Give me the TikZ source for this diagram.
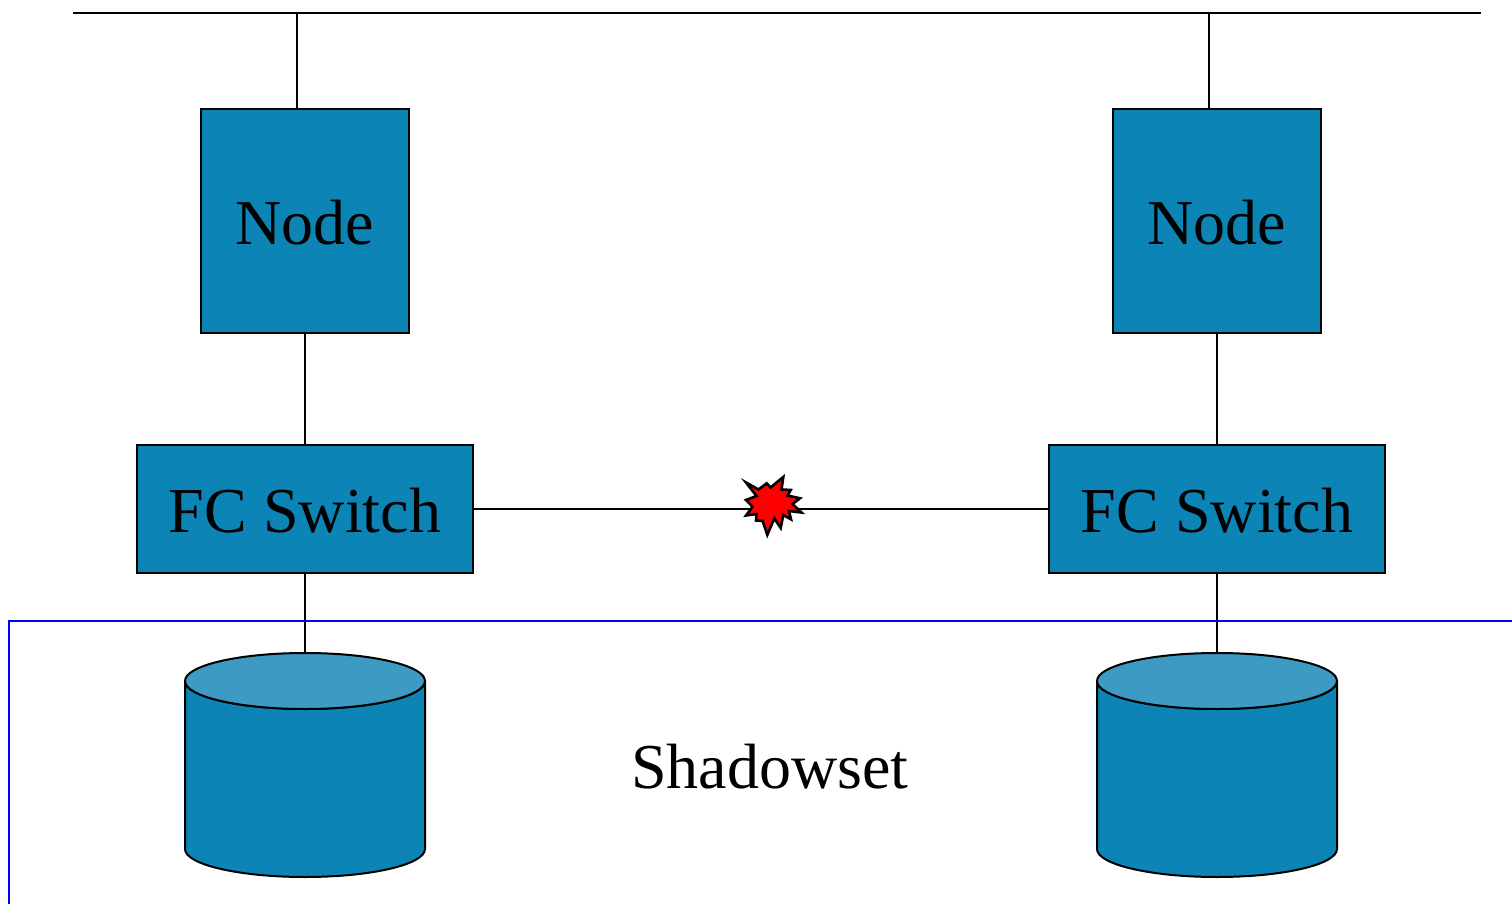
\documentclass[tikz,border=0pt]{standalone}
\usepackage{fontspec}
\setmainfont{Liberation Serif}
\definecolor{boxblue}{HTML}{0C84B5}
\definecolor{capblue}{HTML}{3C9AC3}
\tikzset{
  unit box/.style={draw=black,fill=boxblue,line width=1pt,outer sep=0pt,inner sep=0pt,
    font=\fontsize{32}{36}\selectfont,text depth=0pt,align=center},
  node box/.style={unit box,text height=24pt,minimum width=104pt,minimum height=112pt},
  switch box/.style={unit box,text height=23pt,minimum width=168pt,minimum height=64pt},
  disk anchor/.style={inner sep=0pt,outer sep=0pt,minimum width=120pt,minimum height=112pt},
  link/.style={draw=black,line width=1pt},
  disk body/.style={draw=black,fill=boxblue,line width=1pt,line join=round},
  disk cap/.style={draw=black,fill=capblue,line width=1pt},
  frame line/.style={draw={rgb,255:red,0;green,0;blue,255},line width=1pt},
  label text/.style={font=\fontsize{32}{36}\selectfont,inner sep=0pt,anchor=base},
  burst/.style={draw=black,fill=red,line width=1.3pt,miter limit=10}
}
\begin{document}
\begin{tikzpicture}[x=0.5pt,y=-0.5pt]
\useasboundingbox (0,0) rectangle (1512,904);
% bus
\coordinate (busL) at (73,13);
\coordinate (busR) at (1481,13);
\coordinate (tapL) at (297,13);
\coordinate (tapR) at (1209,13);
\draw[link] (busL) -- (busR);
% nodes and switches
\node[node box] (nodeL) at (305,221) {Node};
\node[node box] (nodeR) at (1217,221) {Node};
\node[switch box] (swL) at (305,509) {FC Switch};
\node[switch box] (swR) at (1217,509) {FC Switch};
% disk extents
\node[disk anchor] (diskL) at (305,765) {};
\node[disk anchor] (diskR) at (1217,765) {};
% connectors
\draw[link] (tapL) -- (tapL |- nodeL.north);
\draw[link] (tapR) -- (tapR |- nodeR.north);
\draw[link] (nodeL.south) -- (swL.north);
\draw[link] (nodeR.south) -- (swR.north);
\draw[link] (swL.east) -- (swR.west);
\draw[link] (swL.south) -- (diskL.north);
\draw[link] (swR.south) -- (diskR.north);
% shadowset frame
\coordinate (frameA) at (9,904);
\coordinate (frameB) at (9,621);
\coordinate (frameC) at (1512,621);
\draw[frame line] (frameA) -- (frameB) -- (frameC);
% disks
\foreach \d in {diskL,diskR}{
  \draw[disk body] (\d.north west) ++(0,28) -- ++(0,168)
    arc[start angle=180,end angle=0,x radius=120,y radius=28]
    -- ++(0,-168)
    arc[start angle=0,end angle=180,x radius=120,y radius=28] -- cycle;
  \draw[disk cap] (\d.north) ++(0,28) ellipse[x radius=120,y radius=28];
}
\node[label text] (shadow) at (770,788) {Shadowset};
% failure burst
\draw[burst] (746,482.5) -- (758.5,489.5) -- (766.7,483.3) -- (770.5,487.5) -- (783.3,477)
  -- (781.5,489.5) -- (790.7,490) -- (787.5,495.5) -- (800,498.3) -- (792.5,504)
  -- (801.5,512.5) -- (789,511) -- (791,519.3) -- (783.3,515) -- (780.7,528)
  -- (774.3,518.5) -- (767.3,535) -- (762.7,521) -- (756,520.5) -- (756.5,514)
  -- (746,515.5) -- (752.5,506.7) -- (746,500) -- (756.5,496) -- cycle;
\end{tikzpicture}
\end{document}
